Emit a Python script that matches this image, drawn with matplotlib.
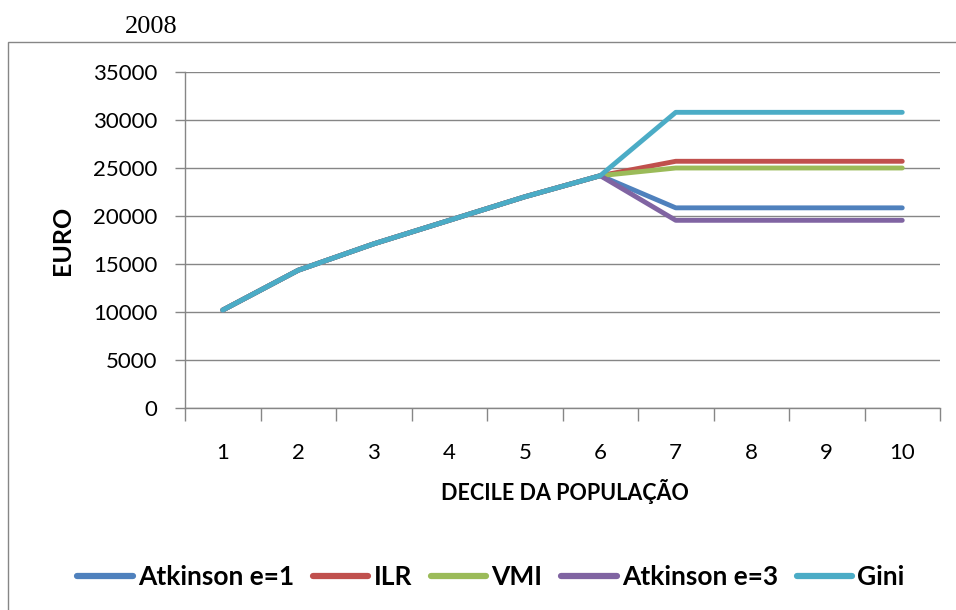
import matplotlib
matplotlib.use('Agg')
import matplotlib.pyplot as plt
from matplotlib.patches import Rectangle

deciles = [1, 2, 3, 4, 5, 6, 7, 8, 9, 10]
atkinson_1 = [10200, 14350, 17100, 19550, 22000, 24200, 20850, 20850, 20850, 20850]
ilr = [10200, 14350, 17100, 19550, 22000, 24200, 25700, 25700, 25700, 25700]
vmi = [10200, 14350, 17100, 19550, 22000, 24200, 25000, 25000, 25000, 25000]
atkinson_3 = [10200, 14350, 17100, 19550, 22000, 24200, 19550, 19550, 19550, 19550]
gini = [10200, 14350, 17100, 19550, 22000, 24200, 30800, 30800, 30800, 30800]

series_names = ["Atkinson e=1", "ILR", "VMI", "Atkinson e=3", "Gini"]
series_colors = ['#4F81BD', '#C0504D', '#9BBB59', '#8064A2', '#4BACC6']
y_ticks = [0, 5000, 10000, 15000, 20000, 25000, 30000, 35000]

GRID = '#868686'
FONT = 'Lato'

W, H = 956, 610
fig = plt.figure(figsize=(W / 100, H / 100), dpi=100)

# outer chart frame (runs off the right and bottom edge of the image)
fig.patches.append(Rectangle((8 / W, -0.05), 1.0, 1 - 42 / H + 0.05,
                             transform=fig.transFigure, fill=False,
                             edgecolor=GRID, linewidth=1.0))

fig.text(151 / W, 1 - 27 / H, "2008", ha='center', va='center',
         fontsize=19, family='Liberation Serif')

ax = fig.add_axes([185 / W, 1 - 408 / H, 755 / W, 336 / H])

for vals, name, color in zip([atkinson_1, ilr, vmi, atkinson_3, gini], series_names, series_colors):
    ax.plot(deciles, vals, color=color, linewidth=3.5, solid_capstyle='round',
            solid_joinstyle='round', label=name)

ax.set_xlim(0.5, 10.5)
ax.set_ylim(0, 35000)
ax.set_yticks(y_ticks)
ax.set_yticklabels([str(v) for v in y_ticks], family=FONT, fontsize=16)
ax.yaxis.grid(True, color=GRID, linewidth=1.0)
ax.set_axisbelow(True)

# category axis: tick marks between categories, labels at the categories
ax.set_xticks([d + 0.5 for d in [0] + deciles])
ax.set_xticklabels([])
ax.set_xticks(deciles, minor=True)
ax.set_xticklabels([str(d) for d in deciles], minor=True, family=FONT, fontsize=16)
ax.tick_params(axis='x', which='major', length=9, color=GRID, width=1)
ax.tick_params(axis='x', which='minor', length=0, pad=25)
ax.tick_params(axis='y', length=7, color=GRID, width=1, pad=13)

for side in ['top', 'right']:
    ax.spines[side].set_visible(False)
for side in ['left', 'bottom']:
    ax.spines[side].set_color(GRID)
    ax.spines[side].set_linewidth(1.0)

fig.text(565 / W, 1 - 492 / H, "DECILE DA POPULAÇÃO", ha='center', va='center',
         fontsize=15.5, fontweight='bold', family=FONT)
fig.text(62 / W, 1 - 240 / H, "EURO", ha='center', va='center', rotation=90,
         fontsize=18, fontweight='bold', family=FONT)

leg = fig.legend(loc='center', bbox_to_anchor=(491 / W, 1 - 577 / H), ncol=5,
                 frameon=False, prop={'family': FONT, 'weight': 'bold', 'size': 19},
                 handlelength=2.1, handletextpad=0.19, columnspacing=0.72,
                 borderpad=0, borderaxespad=0)
for line in leg.get_lines():
    line.set_linewidth(4.5)
    line.set_solid_capstyle('round')

fig.savefig('out.png', dpi=100)
